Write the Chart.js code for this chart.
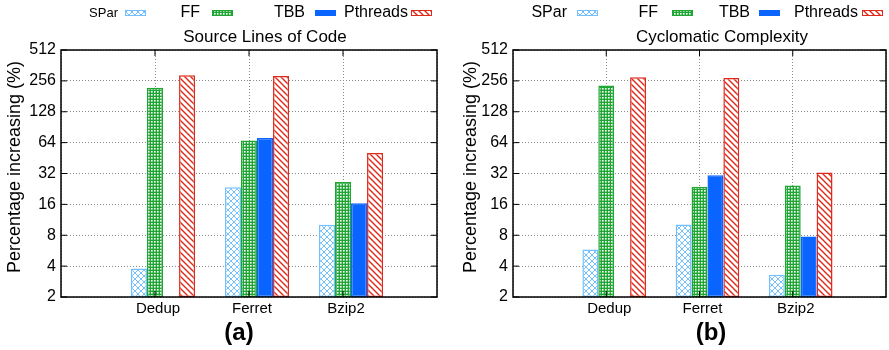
<!DOCTYPE html>
<html>
<head>
<meta charset="utf-8">
<script src="https://cdn.jsdelivr.net/npm/chart.js@4.4.1/dist/chart.umd.min.js"></script>
<style>
  html, body { margin: 0; padding: 0; background: #fff; }
  #wrap { position: relative; width: 889px; height: 350px; }
  .pane { position: absolute; top: 0; width: 444px; height: 350px; }
</style>
</head>
<body>
<div id="wrap">
  <div class="pane" style="left:0"><canvas id="sloc"></canvas></div>
  <div class="pane" style="left:445px"><canvas id="cc"></canvas></div>
</div>
<script>
const benchmarks = ['Dedup', 'Ferret', 'Bzip2'];
const seriesNames = ['SPar', 'FF', 'TBB', 'Pthreads'];
const yTicks = [2, 4, 8, 16, 32, 64, 128, 256, 512];
const yTitle = 'Percentage increasing (%)';

// (a) Source Lines of Code, % increase
const slocSPar = [3.8, 23.5, 10.1];
const slocFF = [219, 67, 26.4];
const slocTBB = [null, 71, 16.4];
const slocPthreads = [290, 286, 50.7];

// (b) Cyclomatic Complexity, % increase
const ccSPar = [5.8, 10.2, 3.3];
const ccFF = [231, 23.7, 24.4];
const ccTBB = [null, 30.8, 7.8];
const ccPthreads = [277, 273, 32.7];

const FONT = "'Liberation Sans', Arial, sans-serif";
Chart.defaults.font.family = FONT;
Chart.defaults.color = '#000';

// fill patterns like gnuplot's
function pattern(size, draw) {
  const c = document.createElement('canvas');
  c.width = c.height = size;
  const g = c.getContext('2d');
  g.fillStyle = '#fff';
  g.fillRect(0, 0, size, size);
  draw(g, size);
  return g.createPattern(c, 'repeat');
}
const sparFill = pattern(6, (g, s) => {
  g.strokeStyle = '#74c0ff'; g.lineWidth = 1;
  g.beginPath();
  g.moveTo(-1, -1); g.lineTo(s + 1, s + 1);
  g.moveTo(-1, s + 1); g.lineTo(s + 1, -1);
  g.stroke();
});
const ffFill = pattern(3, (g, s) => {
  g.fillStyle = '#1ea532'; g.fillRect(0, 0, s, s);
  g.fillStyle = '#fff'; g.fillRect(1, 1, 1.6, 1.6);
});
const ptFill = pattern(6, (g, s) => {
  g.strokeStyle = '#dd2a1a'; g.lineWidth = 1.4;
  g.beginPath();
  for (let k = -1; k <= 1; k++) { g.moveTo(-1, -1 + k * s); g.lineTo(s + 1, s + 1 + k * s); }
  g.stroke();
});
const fills = [sparFill, ffFill, '#0a64ff', ptFill];
const borders = ['#74c0ff', '#1ea532', '#0a64ff', '#dd2a1a'];

function makeChart(id, cfg) {
  const pad = a => [null, ...a, null];
  const datasets = [{ label: 'gap', data: pad([null, null, null]) }];
  cfg.series.forEach((vals, i) => datasets.push({
    label: seriesNames[i],
    data: pad(vals),
    backgroundColor: fills[i],
    borderColor: borders[i],
    borderWidth: 1.5,
    borderSkipped: false
  }));

  const frame = {
    id: 'frame',
    afterDatasetsDraw(chart) {
      const { ctx, chartArea: a } = chart;
      ctx.save();
      ctx.strokeStyle = '#000';
      ctx.lineWidth = 1.5;
      ctx.strokeRect(a.left, a.top, a.right - a.left, a.bottom - a.top);
      ctx.lineWidth = 1;
      ctx.beginPath();
      yTicks.forEach(v => {
        const y = chart.scales.y.getPixelForValue(v);
        ctx.moveTo(a.left, y); ctx.lineTo(a.left + 6, y);
        ctx.moveTo(a.right, y); ctx.lineTo(a.right - 6, y);
      });
      benchmarks.forEach((b, i) => {
        const x = chart.scales.x.getPixelForValue(i + 1);
        ctx.moveTo(x, a.bottom); ctx.lineTo(x, a.bottom - 6);
        ctx.moveTo(x, a.top); ctx.lineTo(x, a.top + 6);
      });
      ctx.stroke();

      ctx.fillStyle = '#000';
      ctx.textBaseline = 'middle';
      ctx.textAlign = 'center';
      ctx.font = '17px ' + FONT;
      ctx.fillText(cfg.title, cfg.titleX, 37);
      ctx.font = 'bold 24px ' + FONT;
      ctx.fillText(cfg.tag, cfg.tagX, 333);

      ctx.save();
      ctx.translate(cfg.yTitleX, 167);
      ctx.rotate(-Math.PI / 2);
      ctx.font = '18px ' + FONT;
      ctx.fillText(yTitle, 0, 0);
      ctx.restore();

      ctx.textAlign = 'right';
      seriesNames.forEach((name, i) => {
        ctx.font = cfg.legendSize[i] + 'px ' + FONT;
        ctx.fillStyle = '#000';
        ctx.fillText(name, cfg.legendText[i], 13);
        ctx.fillStyle = fills[i];
        ctx.fillRect(cfg.legendBox[i], 10, 21, 6);
        ctx.strokeStyle = borders[i];
        ctx.lineWidth = 1;
        ctx.strokeRect(cfg.legendBox[i] + 0.5, 10.5, 20, 5);
      });
      ctx.restore();
    }
  };

  const gridDash = { display: false, dash: [1, 2] };
  new Chart(document.getElementById(id), {
    type: 'bar',
    data: { labels: ['', ...benchmarks, ''], datasets },
    options: {
      responsive: true,
      maintainAspectRatio: false,
      animation: false,
      layout: { padding: { top: 50, right: cfg.padRight, left: 0, bottom: 0 } },
      datasets: { bar: { barPercentage: 1, categoryPercentage: 0.853 } },
      plugins: { legend: { display: false }, title: { display: false }, tooltip: { enabled: false } },
      scales: {
        x: {
          offset: false,
          grid: { offset: false, color: '#8a8a8a', drawTicks: false },
          border: gridDash,
          ticks: { font: { size: 15 }, padding: 3, labelOffset: 3, autoSkip: false, maxRotation: 0 },
          afterFit: s => { s.height = 53; }
        },
        y: {
          type: 'logarithmic',
          min: 2,
          max: 512,
          afterBuildTicks: s => { s.ticks = yTicks.map(v => ({ value: v })); },
          grid: { color: '#8a8a8a', drawTicks: false },
          border: gridDash,
          ticks: { font: { size: 16 }, padding: 5, callback: v => String(v) },
          afterFit: s => { s.width = cfg.yWidth; }
        }
      }
    },
    plugins: [frame]
  });
}

makeChart('sloc', {
  series: [slocSPar, slocFF, slocTBB, slocPthreads],
  title: 'Source Lines of Code', titleX: 265, tag: '(a)', tagX: 239,
  padRight: 7, yWidth: 61, yTitleX: 15,
  legendSize: [13, 16, 16, 16],
  legendText: [118, 200, 305, 408],
  legendBox: [125, 212, 315, 411]
});
makeChart('cc', {
  series: [ccSPar, ccFF, ccTBB, ccPthreads],
  title: 'Cyclomatic Complexity', titleX: 277, tag: '(b)', tagX: 266,
  padRight: 1, yWidth: 68, yTitleX: 26,
  legendSize: [16, 16, 16, 16],
  legendText: [122, 213, 305, 413],
  legendBox: [132, 227, 314, 417]
});
</script>
</body>
</html>
